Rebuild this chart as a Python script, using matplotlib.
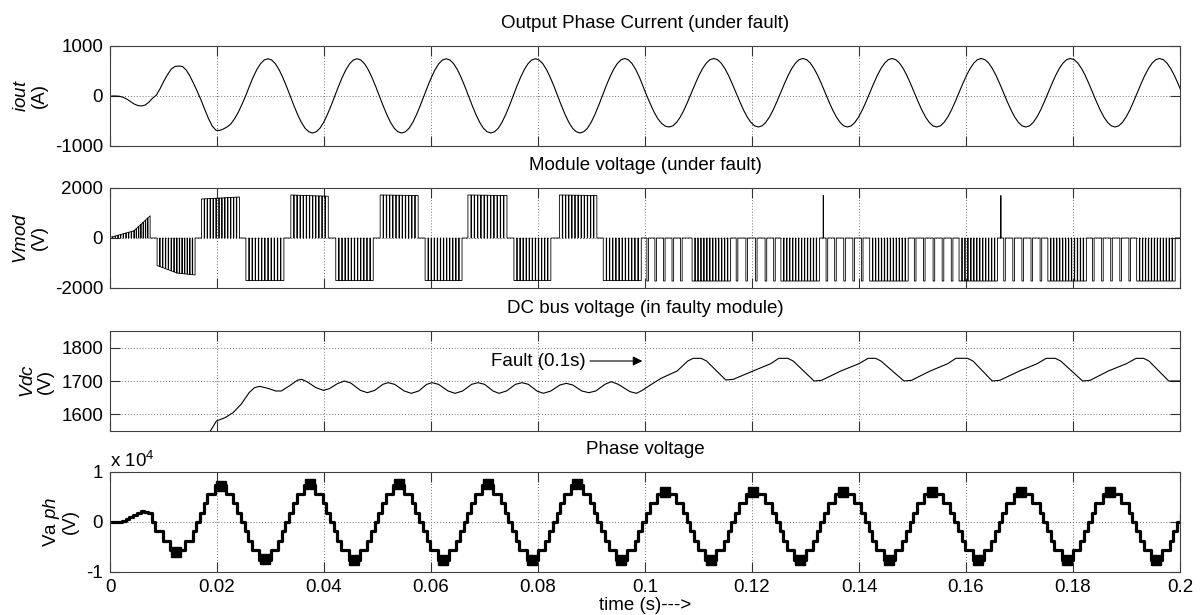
import numpy as np
import matplotlib
matplotlib.use('Agg')
import matplotlib.pyplot as plt

# ---------------- data ----------------
# output phase current, sampled every 1/1440 s starting at 0.35 ms
IOUT_T0 = 0.00035
IOUT_DT = 1.0 / 1440
iout = [
    0, 0, -5, -25, -60, -110, -160, -190, -200, -180, -120, -40,
    20, 150, 300, 430, 540, 590, 600, 590, 520, 400, 250, 90,
    -80, -270, -450, -600, -685, -690, -660, -620, -560, -460, -330, -170,
    0, 193, 372, 527, 645, 720,
    745, 720, 645, 527, 372, 193, 0, -193, -372, -527, -645, -715,
    -740, -715, -645, -527, -372, -193, 0, 193, 372, 527, 645, 720,
    745, 720, 645, 527, 372, 193, 0, -193, -372, -527, -645, -715,
    -740, -715, -645, -527, -372, -193, 0, 193, 372, 527, 645, 720,
    745, 720, 645, 527, 372, 193, 0, -193, -372, -527, -645, -715,
    -740, -715, -645, -527, -372, -193, 0, 193, 372, 527, 645, 720,
    745, 720, 645, 527, 372, 193, 0, -193, -372, -527, -645, -715,
    -740, -715, -645, -527, -372, -193, 0, 193, 372, 527, 645, 720,
    750, 725, 650, 530, 375, 190, 0, -170, -330, -460, -550, -605,
    -620, -597, -528, -419, -278, -112, 65, 242, 408, 549, 658, 727,
    750, 727, 658, 549, 408, 242, 65, -112, -278, -419, -528, -597,
    -620, -597, -528, -419, -278, -112, 65, 242, 408, 549, 658, 727,
    750, 727, 658, 549, 408, 242, 65, -112, -278, -419, -528, -597,
    -620, -597, -528, -419, -278, -112, 65, 242, 408, 549, 658, 727,
    750, 727, 658, 549, 408, 242, 65, -112, -278, -419, -528, -597,
    -620, -597, -528, -419, -278, -112, 65, 242, 408, 549, 658, 727,
    750, 727, 658, 549, 408, 242, 65, -112, -278, -419, -528, -597,
    -620, -597, -528, -419, -278, -112, 65, 242, 408, 549, 658, 727,
    750, 727, 658, 549, 408, 242, 65, -112, -278, -419, -528, -597,
    -620, -597, -528, -419, -278, -112, 65, 242, 408, 549, 658, 727,
    750, 727, 658, 549, 408, 242, 65,
]

# module voltage: switching blocks (start, end, level at start, level at end, notches)
mod_start = [0.0000, 0.0045, 0.0088, 0.0125, 0.0171, 0.0254, 0.0338, 0.0422, 0.0505, 0.0589,
             0.0669, 0.0755, 0.0840, 0.0922, 0.1088, 0.1254, 0.1420, 0.1587, 0.1753, 0.1919]
mod_end = [0.0045, 0.0075, 0.0125, 0.0159, 0.0242, 0.0325, 0.0408, 0.0492, 0.0576, 0.0658,
           0.0742, 0.0824, 0.0910, 0.0993, 0.1160, 0.1326, 0.1492, 0.1659, 0.1825, 0.1991]
mod_v0 = [20, 290, -1100, -1400, 1560, -1700, 1720, -1700, 1720, -1700,
          1720, -1700, 1720, -1700, -1720, -1720, -1720, -1720, -1720, -1720]
mod_v1 = [290, 890, -1400, -1480, 1640, -1700, 1670, -1700, 1700, -1700,
          1700, -1700, 1700, -1700, -1720, -1720, -1720, -1720, -1720, -1720]
mod_notch = [8, 6, 6, 6, 12, 11, 11, 11, 11, 11, 11, 11, 11, 11, 12, 12, 12, 12, 12, 12]
# sparse negative pulses after the fault (centres) and their level
sparse_t = [0.1005, 0.1020, 0.1036, 0.1052, 0.1068,
            0.1172, 0.1190, 0.1208, 0.1226, 0.1242,
            0.1340, 0.1356, 0.1373, 0.1390, 0.1406,
            0.1505, 0.1522, 0.1540, 0.1557, 0.1574,
            0.1672, 0.1689, 0.1706, 0.1723, 0.1740,
            0.1838, 0.1855, 0.1872, 0.1889, 0.1906]
sparse_v = -1720
spike_t = [0.1333, 0.1665]
spike_v = [1700, 1700]

# DC bus voltage of the faulty module
vdc_t = [0.0180, 0.0199, 0.0215, 0.0230, 0.0245, 0.0260, 0.0270, 0.0280, 0.0295, 0.0310,
         0.0320, 0.0335, 0.0350, 0.0358, 0.0368, 0.0385, 0.0399, 0.0410, 0.0425, 0.0438,
         0.0450, 0.0468, 0.0481, 0.0495, 0.0510, 0.0520, 0.0532, 0.0550, 0.0563, 0.0577,
         0.0592, 0.0602, 0.0614, 0.0632, 0.0645, 0.0659, 0.0676, 0.0688, 0.0700, 0.0716,
         0.0727, 0.0741, 0.0758, 0.0770, 0.0782, 0.0798, 0.0810, 0.0824, 0.0841, 0.0853,
         0.0865, 0.0882, 0.0895, 0.0908, 0.0925, 0.0937, 0.0950, 0.0972, 0.0984, 0.0995,
         0.1010, 0.1030, 0.1060, 0.1080, 0.1090, 0.1105, 0.1115, 0.1151, 0.1165, 0.1202,
         0.1235, 0.1250, 0.1267, 0.1277, 0.1316, 0.1330, 0.1366, 0.1400, 0.1417, 0.1431,
         0.1441, 0.1484, 0.1498, 0.1533, 0.1566, 0.1581, 0.1603, 0.1613, 0.1649, 0.1663,
         0.1700, 0.1733, 0.1750, 0.1767, 0.1777, 0.1818, 0.1832, 0.1866, 0.1900, 0.1918,
         0.1932, 0.1942, 0.1979, 0.2000]
vdc_v = [1530, 1580, 1590, 1605, 1630, 1665, 1680, 1684, 1678, 1670,
         1670, 1685, 1702, 1705, 1698, 1680, 1672, 1677, 1692, 1700,
         1694, 1672, 1665, 1672, 1690, 1695, 1690, 1670, 1663, 1670,
         1690, 1695, 1690, 1670, 1663, 1670, 1690, 1695, 1690, 1670,
         1663, 1670, 1690, 1695, 1690, 1670, 1663, 1670, 1688, 1693,
         1688, 1670, 1665, 1670, 1690, 1698, 1690, 1668, 1663, 1672,
         1688, 1708, 1730, 1760, 1768, 1768, 1760, 1703, 1705, 1730,
         1752, 1768, 1768, 1760, 1700, 1702, 1730, 1752, 1768, 1768,
         1760, 1700, 1702, 1730, 1752, 1768, 1768, 1760, 1700, 1702,
         1730, 1752, 1768, 1768, 1760, 1700, 1702, 1730, 1752, 1768,
         1768, 1760, 1700, 1700]
fault_t = 0.1

# phase voltage staircase, sampled every 1/1440 s starting at -0.2 ms
VA_T0 = -0.0002
VA_DT = 1.0 / 1440
va = [
    0, 0, 0, 0, 300, 700, 1100, 1500, 1900, 2300, 2000, 1875, 0, -1875, -1875, -3750, -3750, -5625,
    -5625, -5625, -5625, -3750, -3750, -1875, 0, 1875, 3750, 5625, 5625, 7500,
    7500, 7500, 5625, 5625, 3750, 1875, 0, -1875, -3750, -5625, -5625, -7500,
    -7500, -7500, -5625, -5625, -3750, -1875, 0, 1875, 3750, 5625, 5625, 7500,
    7500, 7500, 5625, 5625, 3750, 1875, 0, -1875, -3750, -5625, -5625, -7500,
    -7500, -7500, -5625, -5625, -3750, -1875, 0, 1875, 3750, 5625, 5625, 7500,
    7500, 7500, 5625, 5625, 3750, 1875, 0, -1875, -3750, -5625, -5625, -7500,
    -7500, -7500, -5625, -5625, -3750, -1875, 0, 1875, 3750, 5625, 5625, 7500,
    7500, 7500, 5625, 5625, 3750, 1875, 0, -1875, -3750, -5625, -5625, -7500,
    -7500, -7500, -5625, -5625, -3750, -1875, 0, 1875, 3750, 5625, 5625, 7500,
    7500, 7500, 5625, 5625, 3750, 1875, 0, -1875, -3750, -5625, -5625, -7500,
    -7500, -7500, -5625, -5625, -3750, -1875, 0, 1875, 3750, 3750, 5625, 5625,
    5625, 5625, 5625, 3750, 3750, 1875, 0, -1875, -3750, -5625, -5625, -7500,
    -7500, -7500, -5625, -5625, -3750, -1875, 0, 1875, 3750, 3750, 5625, 5625,
    5625, 5625, 5625, 3750, 3750, 1875, 0, -1875, -3750, -5625, -5625, -7500,
    -7500, -7500, -5625, -5625, -3750, -1875, 0, 1875, 3750, 3750, 5625, 5625,
    5625, 5625, 5625, 3750, 3750, 1875, 0, -1875, -3750, -5625, -5625, -7500,
    -7500, -7500, -5625, -5625, -3750, -1875, 0, 1875, 3750, 3750, 5625, 5625,
    5625, 5625, 5625, 3750, 3750, 1875, 0, -1875, -3750, -5625, -5625, -7500,
    -7500, -7500, -5625, -5625, -3750, -1875, 0, 1875, 3750, 3750, 5625, 5625,
    5625, 5625, 5625, 3750, 3750, 1875, 0, -1875, -3750, -5625, -5625, -7500,
    -7500, -7500, -5625, -5625, -3750, -1875, 0, 1875, 3750, 3750, 5625, 5625,
    5625, 5625, 5625, 3750, 3750, 1875, 0, -1875, -3750, -5625, -5625, -7500,
    -7500, -7500, -5625, -5625, -3750, -1875, 0, 1875,
]
# dense switching blobs at the peaks / troughs
blob_t = [0.0123, 0.0207, 0.0289, 0.0374, 0.0456, 0.0540, 0.0623, 0.0707, 0.0789, 0.0873,
          0.0956, 0.1037, 0.1124, 0.1202, 0.1290, 0.1370, 0.1456, 0.1537, 0.1623, 0.1703,
          0.1789, 0.1869, 0.1955]
blob_v = [-6000, 7300, -7400, 7600, -7500, 7600, -7500, 7600, -7500, 7600,
          -7500, 6100, -7500, 6100, -7500, 6100, -7500, 6100, -7500, 6100,
          -7500, 6100, -7500]

xticks = [0, 0.02, 0.04, 0.06, 0.08, 0.1, 0.12, 0.14, 0.16, 0.18, 0.2]
xtick_labels = ['0', '0.02', '0.04', '0.06', '0.08', '0.1', '0.12', '0.14', '0.16', '0.18', '0.2']

titles = ['Output Phase Current (under fault)', 'Module voltage (under fault)',
          'DC bus voltage (in faulty module)', 'Phase voltage']
ylabels = [r'$\mathit{iout}$' + '\n(A)', r'$\mathit{Vmod}$' + '\n(V)',
           r'$\mathit{Vdc}$' + '\n(V)', r'Va $\mathit{ph}$' + '\n(V)']


def build_module_wave():
    w = 0.00004
    segs = []
    for a, b, v0, v1, n in zip(mod_start, mod_end, mod_v0, mod_v1, mod_notch):
        segs.append((a, b, v0, v1, n))
    for c in sparse_t:
        segs.append((c - 0.00015, c + 0.00015, sparse_v, sparse_v, 0))
    for c, v in zip(spike_t, spike_v):
        segs.append((c, c + 0.00004, v, v, 0))
    segs.sort()
    ts, vs = [0.0], [0.0]
    for a, b, v0, v1, n in segs:
        ts += [a, a]
        vs += [0, v0]
        if n:
            for c in np.linspace(a, b, n + 2)[1:-1]:
                lv = v0 + (v1 - v0) * (c - a) / (b - a)
                ts += [c - w, c - w, c + w, c + w]
                vs += [lv, 0, 0, lv]
        ts += [b, b]
        vs += [v1, 0]
    ts.append(0.2)
    vs.append(0)
    return np.array(ts), np.array(vs)


def style(ax, title, ylabel, last):
    ax.set_xlim(0, 0.2)
    ax.set_xticks(xticks)
    ax.set_title(title, fontsize=13.5, pad=13)
    ax.set_ylabel(ylabel, linespacing=1.05, labelpad=5)
    ax.tick_params(direction='in', top=True, right=True, length=7.5, width=0.8,
                   color='0.2', labelbottom=last, pad=5)
    ax.grid(True, linestyle=(0, (1, 2)), color='0.45', linewidth=0.7)
    for s in ax.spines.values():
        s.set_linewidth(0.8)
        s.set_color('0.25')
    if last:
        ax.set_xticklabels(xtick_labels)
        ax.set_xlabel('time (s)--->', labelpad=1)


def main():
    plt.rcParams['font.family'] = ['Liberation Sans', 'DejaVu Sans']
    plt.rcParams['font.size'] = 13.5
    plt.rcParams['axes.unicode_minus'] = False
    plt.rcParams['mathtext.fontset'] = 'custom'
    plt.rcParams['mathtext.it'] = 'Liberation Sans:italic'
    plt.rcParams['mathtext.rm'] = 'Liberation Sans'

    fig = plt.figure(figsize=(12.01, 6.15), dpi=100)
    W, H = 1201.0, 615.0
    tops = [46, 188, 331, 472]
    axes = [fig.add_axes([110 / W, 1 - (t + 100) / H, 1070 / W, 100 / H]) for t in tops]

    # output current
    ax = axes[0]
    t = IOUT_T0 + np.arange(len(iout)) * IOUT_DT
    ax.plot(t, iout, color='k', lw=0.8)
    ax.set_ylim(-1000, 1000)
    ax.set_yticks([-1000, 0, 1000])

    # module voltage
    ax = axes[1]
    tm, vm = build_module_wave()
    ax.plot(tm, vm, color='k', lw=0.6)
    ax.set_ylim(-2000, 2000)
    ax.set_yticks([-2000, 0, 2000])

    # dc bus
    ax = axes[2]
    ax.plot(vdc_t, vdc_v, color='k', lw=0.8)
    ax.set_ylim(1550, 1850)
    ax.set_yticks([1600, 1700, 1800])
    ax.annotate('Fault (0.1s)', xy=(fault_t - 0.0005, 1760), xytext=(0.0801, 1760),
                ha='center', va='center', fontsize=13.5,
                arrowprops=dict(arrowstyle='-|>', color='k', lw=0.8,
                                mutation_scale=14, shrinkA=1, shrinkB=0))

    # phase voltage
    ax = axes[3]
    t = VA_T0 + np.arange(len(va)) * VA_DT
    ax.plot(t, va, color='k', lw=2.3, drawstyle='steps-mid')
    ax.plot(blob_t, blob_v, 's', color='k', ms=7, mec='k')
    ax.set_ylim(-1e4, 1e4)
    ax.set_yticks([-1e4, 0, 1e4])
    ax.set_yticklabels(['-1', '0', '1'])
    ax.text(0, 1.01, r'x 10$^{4}$', transform=ax.transAxes, ha='left', va='bottom',
            fontsize=13.5)

    for i, ax in enumerate(axes):
        style(ax, titles[i], ylabels[i], i == 3)

    fig.savefig('out.png', dpi=100)


if __name__ == "__main__":
    main()
